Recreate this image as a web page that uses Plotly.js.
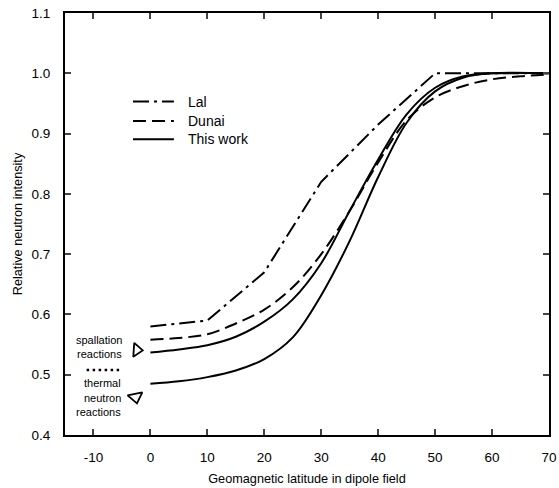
<!DOCTYPE html>
<html>
<head>
<meta charset="utf-8">
<script src="https://cdn.plot.ly/plotly-3.0.1.min.js"></script>
<style>html,body{margin:0;padding:0;background:#fff;}#chart{width:559px;height:488px;}</style>
</head>
<body>
<div id="chart"></div>
<script>
// Lal (piecewise linear)
const lalX = [0, 10, 20, 30, 40, 50, 70];
const lalY = [0.58, 0.59, 0.67, 0.82, 0.915, 1.0, 1.0];

// Dunai
const dunaiX = [0, 5, 10, 15, 20, 25, 30, 35, 40, 45, 50, 55, 60, 65, 70];
const dunaiY = [0.558, 0.561, 0.567, 0.585, 0.608, 0.645, 0.700, 0.772, 0.852, 0.922, 0.960, 0.979, 0.990, 0.995, 0.998];

// This work – spallation reactions
const spallX = [0, 5, 10, 15, 20, 25, 30, 35, 40, 45, 50, 55, 60, 70];
const spallY = [0.537, 0.542, 0.549, 0.563, 0.588, 0.625, 0.685, 0.772, 0.857, 0.932, 0.976, 0.995, 1.0, 1.0];

// This work – thermal neutron reactions
const thermX = [0, 5, 10, 15, 20, 25, 30, 35, 40, 45, 50, 55, 60, 70];
const thermY = [0.485, 0.489, 0.496, 0.507, 0.526, 0.562, 0.632, 0.722, 0.828, 0.918, 0.970, 0.993, 1.0, 1.0];

// annotation marker positions
const spallArrowX = [-2.4];
const spallArrowY = [0.541];
const thermArrowX = [-2.6];
const thermArrowY = [0.463];
const dotSampleX = [-11.2, -5.3];
const dotSampleY = [0.508, 0.508];

const xTicks = [-10, 0, 10, 20, 30, 40, 50, 60, 70];
const xTickText = ['-10', '0', '10', '20', '30', '40', '50', '60', '70'];
const yTicks = [0.4, 0.5, 0.6, 0.7, 0.8, 0.9, 1.0, 1.1];
const yTickText = ['0.4', '0.5', '0.6', '0.7', '0.8', '0.9', '1.0', '1.1'];

const legendNames = ['Lal', 'Dunai', 'This work'];
const legendDash = ['16px,5px,3px,5px', '13px,6px', 'solid'];

const FONT = 'Liberation Sans, Arial, Helvetica, sans-serif';

const traces = [
  {x: lalX, y: lalY, mode: 'lines', name: legendNames[0],
   line: {color: '#000', width: 2, dash: legendDash[0]}},
  {x: dunaiX, y: dunaiY, mode: 'lines', name: legendNames[1], line: {color: '#000', width: 2, dash: legendDash[1], shape: 'spline', smoothing: 1}},
  {x: spallX, y: spallY, mode: 'lines', name: legendNames[2], line: {color: '#000', width: 2, shape: 'spline', smoothing: 1}},
  {x: thermX, y: thermY, mode: 'lines', name: 'thermal', line: {color: '#000', width: 2, shape: 'spline', smoothing: 1}},
  {x: dotSampleX, y: dotSampleY, mode: 'lines', line: {color: '#000', width: 2.5, dash: '2.5px,3.5px'}},
  {x: spallArrowX, y: spallArrowY, mode: 'markers',
   marker: {symbol: 'triangle-right-open', size: 12, angle: 4, color: '#000', line: {width: 1.8, color: '#000'}}},
  {x: thermArrowX, y: thermArrowY, mode: 'markers',
   marker: {symbol: 'triangle-down-open', size: 13, angle: -12, color: '#000', line: {width: 1.8, color: '#000'}}}
];

// manual legend (key lines + labels) in paper coordinates
const legX0 = 0.1405, legX1 = 0.225, legTextX = 0.25;
const legRowY = [0.790, 0.744, 0.701];
const shapes = legendNames.map((n, i) => ({
  type: 'line', xref: 'paper', yref: 'paper', x0: legX0, x1: legX1, y0: legRowY[i], y1: legRowY[i],
  line: {color: '#000', width: 2, dash: legendDash[i]}
}));

const annFont = {family: FONT, size: 11, color: '#000'};
const annotations = [
  {x: -4.6, y: 0.558, xref: 'x', yref: 'y', text: 'spallation', showarrow: false, xanchor: 'right', font: annFont},
  {x: -4.6, y: 0.534, xref: 'x', yref: 'y', text: 'reactions', showarrow: false, xanchor: 'right', font: annFont},
  {x: -4.8, y: 0.486, xref: 'x', yref: 'y', text: 'thermal', showarrow: false, xanchor: 'right', font: annFont},
  {x: -4.8, y: 0.461, xref: 'x', yref: 'y', text: 'neutron', showarrow: false, xanchor: 'right', font: annFont},
  {x: -4.8, y: 0.438, xref: 'x', yref: 'y', text: 'reactions', showarrow: false, xanchor: 'right', font: annFont}
].concat(legendNames.map((n, i) => ({
  x: legTextX, y: legRowY[i], xref: 'paper', yref: 'paper', text: n, showarrow: false,
  xanchor: 'left', yanchor: 'middle', font: {family: FONT, size: 14, color: '#000'}
})));

const layout = {
  width: 559, height: 488,
  margin: {l: 65, r: 10, t: 13, b: 53},
  paper_bgcolor: '#fff', plot_bgcolor: '#fff',
  font: {family: FONT, size: 13, color: '#000'},
  showlegend: false,
  xaxis: {range: [-15, 70], tickvals: xTicks, ticktext: xTickText, ticks: 'inside', ticklen: 6, tickwidth: 2,
          showline: true, linewidth: 2, linecolor: '#000', mirror: 'ticks',
          showgrid: false, zeroline: false, ticklabelstandoff: 9,
          tickfont: {family: FONT, size: 13.5},
          title: {text: 'Geomagnetic latitude in dipole field', font: {family: FONT, size: 12.7}, standoff: 10}},
  yaxis: {range: [0.4, 1.1], tickvals: yTicks, ticktext: yTickText, ticks: 'inside', ticklen: 6, tickwidth: 2,
          showline: true, linewidth: 2, linecolor: '#000', mirror: 'ticks',
          showgrid: false, zeroline: false, ticklabelstandoff: 10,
          tickfont: {family: FONT, size: 13.5},
          title: {text: 'Relative neutron intensity', font: {family: FONT, size: 12.7}, standoff: 6}},
  shapes: shapes,
  annotations: annotations
};

Plotly.newPlot('chart', traces, layout, {displayModeBar: false, staticPlot: true});
</script>
</body>
</html>
